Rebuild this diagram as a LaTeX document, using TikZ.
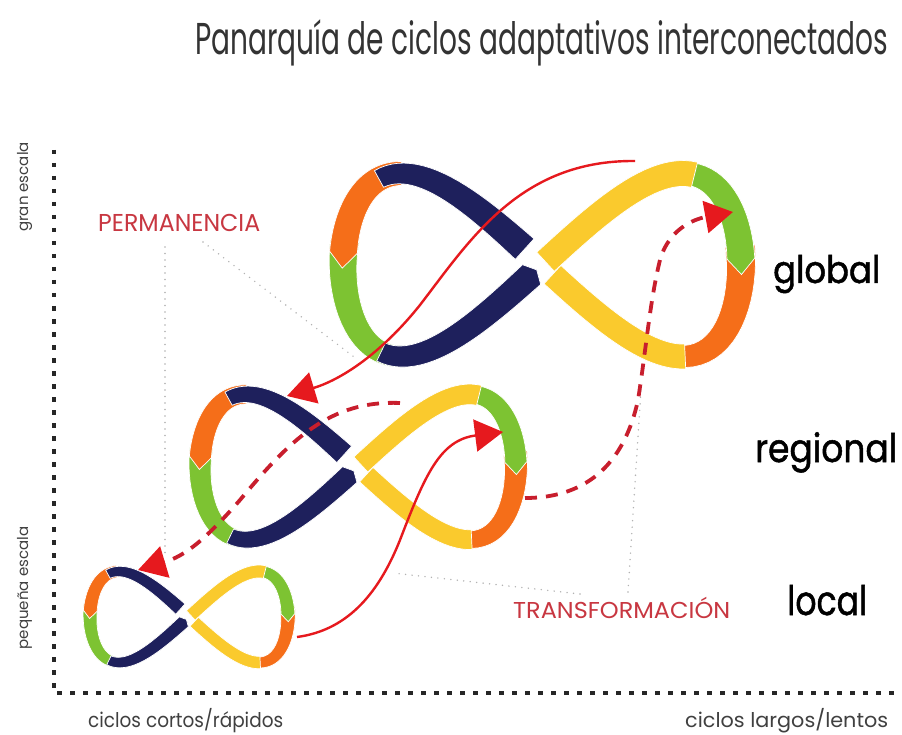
\documentclass[tikz,border=0pt]{standalone}
\usepackage{fontspec}
\setmainfont{Poppins}
\newfontfamily\lvlfont[FakeBold=1.3]{Poppins}
\usepackage{graphicx}
\usetikzlibrary{arrows.meta}
\definecolor{navy}{RGB}{30,32,92}
\definecolor{korange}{RGB}{245,110,25}
\definecolor{kgreen}{RGB}{125,195,50}
\definecolor{kyellow}{RGB}{250,202,45}
\definecolor{kred}{RGB}{230,25,30}
\definecolor{kdred}{RGB}{200,30,45}
\definecolor{ktext}{RGB}{200,55,65}
\newcommand\fitt[4]{\resizebox{#1}{#2}{\smash{#3}\vphantom{#4}}}
% band of the figure eight: color, t start, t end (flow), width start, width end, tip length
\newcommand\band[6]{%
  \fill[#1, draw=white, line width=0.7pt]
    plot[domain=0:1, samples=24]
      ({bx(#2+((#3)-(#2))*\x, #4+((#5)-(#4))*\x)}, {by(#2+((#3)-(#2))*\x, #4+((#5)-(#4))*\x)})
    -- ({fx(#3)-(#6)*ftx(#3)}, {fy(#3)-(#6)*fty(#3)})
    -- plot[domain=0:1, samples=24]
      ({bx(#3+((#2)-(#3))*\x, -(#5+((#4)-(#5))*\x))}, {by(#3+((#2)-(#3))*\x, -(#5+((#4)-(#5))*\x))})
    -- cycle;}
\newcommand\eight{%
  \band{korange}{6}{-58}{0.15}{0.1}{0}
  \band{kgreen}{52}{2}{0.11}{0.14}{0.08}
  \band{kgreen}{-172}{-232}{0.145}{0.1}{0}
  \band{korange}{-135}{-176}{0.12}{0.14}{0.08}
  \band{kyellow}{-44}{-87}{0.125}{0.125}{0}
  \band{navy}{-95}{-145}{0.14}{0.095}{0}
  \band{navy}{-216}{-267}{0.1}{0.135}{0.035}
  \band{kyellow}{89}{40}{0.13}{0.13}{0}}
\begin{document}
\begin{tikzpicture}[x=1pt,y=-1pt,
  declare function={
    fx(\t)=cos(\t);
    fy(\t)=-0.46*sin(2*\t);
    fl(\t)=sqrt(sin(\t)*sin(\t)+0.8464*cos(2*\t)*cos(2*\t));
    fnx(\t)=0.92*cos(2*\t)/fl(\t);
    fny(\t)=-sin(\t)/fl(\t);
    ftx(\t)=-sin(\t)/fl(\t);
    fty(\t)=-0.92*cos(2*\t)/fl(\t);
    bx(\t,\w)=fx(\t)+0.5*\w*fnx(\t);
    by(\t,\w)=fy(\t)+0.5*\w*fny(\t);
  },
  dotline/.style={gray!60, line width=1.6pt, line cap=round, dash pattern=on 0pt off 6.5pt},
  axisdots/.style={black!85, line width=4.5pt, dash pattern=on 4.5pt off 8.5pt},
  redsolid/.style={kred, line width=2.4pt, -{Triangle[length=28pt,width=32pt]}},
  reddash/.style={kdred, line width=3.8pt, dash pattern=on 12pt off 9pt, -{Triangle[length=28pt,width=32pt,color=kred]}},
  lbl/.style={anchor=base west, inner sep=0pt},
  axlbl/.style={anchor=base, inner sep=0pt, rotate=90, text=black!75, font=\fontsize{15}{15}\selectfont},
]
\fill[white] (0,0) rectangle (902,735);
\useasboundingbox (0,0) rectangle (902,735);

% title and labels
\node[lbl, text=black!80] (title) at (195,55) {\fitt{693pt}{33pt}{Panarquía de ciclos adaptativos interconectados}{d}};
\node[lbl, text=black] (lglobal) at (773,283) {\lvlfont\fitt{107pt}{28pt}{global}{l}};
\node[lbl, text=black] (lregional) at (755,462) {\lvlfont\fitt{142pt}{29pt}{regional}{l}};
\node[lbl, text=black] (llocal) at (787,615) {\lvlfont\fitt{80pt}{30pt}{local}{l}};
\node[lbl, text=ktext] (perm) at (98,232) {\fitt{162pt}{17pt}{PERMANENCIA}{P}};
\node[lbl, text=ktext] (trans) at (513,618) {\fitt{217pt}{16pt}{TRANSFORMACIÓN}{T}};
\node[lbl, text=black!75] (lshort) at (88,727) {\fitt{195pt}{15pt}{ciclos cortos/rápidos}{l}};
\node[lbl, text=black!75] (llong) at (685,727) {\fitt{203pt}{15pt}{ciclos largos/lentos}{l}};
\node[axlbl] (lgran) at (28,187) {gran escala};
\node[axlbl] (lpeq) at (28,588) {pequeña escala};

% axes
\coordinate (ax0) at (54,150);
\coordinate (ax1) at (54,693);
\coordinate (ax2) at (896,693);
\draw[axisdots] (ax0) -- (ax1) -- (ax2);

% dotted leader lines
\coordinate (p1) at (165,247); \coordinate (p2) at (165,553);
\coordinate (p3) at (203,242); \coordinate (p4) at (358,360);
\coordinate (t1) at (393,573); \coordinate (t2) at (580,594);
\coordinate (t3) at (628,592); \coordinate (t4) at (641,390);
\draw[dotline] (p1) -- (p2);
\draw[dotline] (p3) -- (p4);
\draw[dotline] (t2) -- (t1);
\draw[dotline] (t3) -- (t4);

% the three adaptive cycles
\begin{scope}[shift={(542,265)}, scale=199] \eight \end{scope}
\begin{scope}[shift={(358,467)}, scale=158] \eight \end{scope}
\begin{scope}[shift={(189,617)}, scale=99] \eight \end{scope}

% red connectors
\coordinate (r1a) at (635,161); \coordinate (r1b) at (420,305); \coordinate (r1c) at (287,396);
\draw[redsolid] (r1a) .. controls (520,160) and (470,240) .. (r1b) .. controls (380,355) and (340,380) .. (r1c);
\coordinate (r2a) at (400,403); \coordinate (r2b) at (240,500); \coordinate (r2c) at (138,570);
\draw[reddash] (r2a) .. controls (330,400) and (290,440) .. (r2b) .. controls (205,540) and (185,556) .. (r2c);
\coordinate (r3a) at (297,637); \coordinate (r3b) at (400,540); \coordinate (r3c) at (503,432);
\draw[redsolid] (r3a) .. controls (350,630) and (380,590) .. (r3b) .. controls (425,475) and (440,440) .. (r3c);
\coordinate (r4a) at (525,498); \coordinate (r4b) at (638,400); \coordinate (r4m) at (660,260); \coordinate (r4c) at (733,212);
\draw[reddash] (r4a) .. controls (590,498) and (625,460) .. (r4b) .. controls (646,350) and (650,300) .. (r4m) .. controls (670,225) and (700,218) .. (r4c);
\end{tikzpicture}
\end{document}
